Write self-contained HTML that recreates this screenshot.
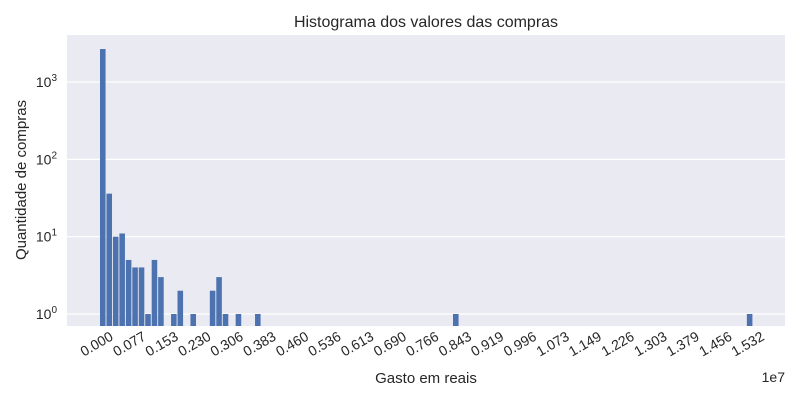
<!DOCTYPE html>
<html><head><meta charset="utf-8"><style>
body{margin:0;background:#fff;}
svg{font-family:"Liberation Sans",sans-serif;}
</style></head><body>
<svg id="chart" width="800" height="400" xmlns="http://www.w3.org/2000/svg">
<rect x="67" y="35" width="718" height="291" fill="#eaeaf2"/>
<g id="grid"></g><g id="bars"></g><g id="xticks"></g><g id="yticks"></g>
<text x="426" y="27" font-size="16" text-anchor="middle" fill="#262626">Histograma dos valores das compras</text>
<text x="426" y="383" font-size="15" text-anchor="middle" fill="#262626">Gasto em reais</text>
<text x="785" y="382" font-size="14" text-anchor="end" fill="#262626">1e7</text>
<text transform="translate(26,180) rotate(-90)" font-size="15" text-anchor="middle" fill="#262626">Quantidade de compras</text>
</svg>
<script>
const binStarts=[0,0.0152,0.0304,0.0456,0.0608,0.076,0.0912,0.1064,0.1216,0.1368,0.1672,0.1824,0.2128,0.2584,0.2736,0.2888,0.3192,0.3648,0.8306,1.522];
const counts=[2670,36,10,11,5,4,4,1,5,3,1,2,1,2,3,1,1,1,1,1];
const xTickLabels=["0.000","0.077","0.153","0.230","0.306","0.383","0.460","0.536","0.613","0.690","0.766","0.843","0.919","0.996","1.073","1.149","1.226","1.303","1.379","1.456","1.532"];
const yTickExps=[0,1,2,3];
const binWidth=0.0152;
const NS="http://www.w3.org/2000/svg";
const X0=100,S=425,Y0=314,DEC=77.33,BOTTOM=326;
function xs(v){return X0+v*S;}
function ys(v){return Y0-Math.log10(v)*DEC;}
function mk(t,a,p){const e=document.createElementNS(NS,t);for(const k in a)e.setAttribute(k,a[k]);p.appendChild(e);return e;}
const grid=document.getElementById('grid'),bars=document.getElementById('bars'),xt=document.getElementById('xticks'),yt=document.getElementById('yticks');
yTickExps.forEach(e=>{
  const y=ys(Math.pow(10,e));
  const l=mk('line',{x1:67,x2:785,y1:y,y2:y,stroke:'#fff','stroke-width':1.2},grid);
  
  
  const t=mk('text',{x:57,y:y+5,'font-size':14,'text-anchor':'end',fill:'#262626'},yt);
  
  
  t.textContent='10';
  const s=mk('tspan',{dy:-6,'font-size':10},t);s.textContent=String(e);
});
binStarts.forEach((b,i)=>{
  const x=xs(b),w=binWidth*S*0.86,y=ys(counts[i]);
  const r=mk('rect',{x:x,y:y,width:w,height:BOTTOM-y,fill:'#4c72b0'},bars);
  
  
});
xTickLabels.forEach(lbl=>{
  const v=parseFloat(lbl),x=xs(v)-1,y=348;
  const t=mk('text',{x:x,y:y,'font-size':14,'text-anchor':'middle',fill:'#262626',transform:`rotate(-30 ${x} ${y})`},xt);
  
  
  t.textContent=lbl;
});
</script>
</body></html>
